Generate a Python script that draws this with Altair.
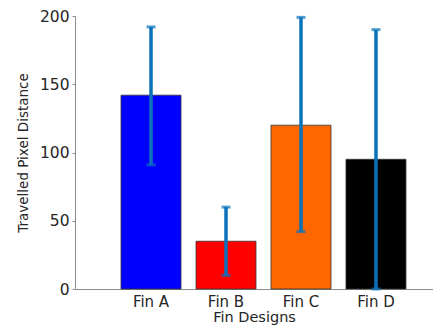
import altair as alt
import pandas as pd

designs = ["Fin A", "Fin B", "Fin C", "Fin D"]
means = [142, 35, 120, 95]
err_low = [91, 10, 42, 0]
err_high = [192, 60, 199, 190]
colors = ["#0000FF", "#FF0000", "#FF6600", "#000000"]

df = pd.DataFrame({"design": designs, "mean": means, "lo": err_low, "hi": err_high})

font = "DejaVu Sans"
x_enc = alt.X(
    "design:N",
    sort=designs,
    scale=alt.Scale(paddingInner=0.2, paddingOuter=0.487, align=0.63),
    axis=alt.Axis(
        title="Fin Designs", labelAngle=0, ticks=False, labelPadding=5,
        labelFontSize=15, titleFontSize=14.5, titlePadding=1,
        domainColor="#8c8c8c", labelColor="#262626", titleColor="#262626",
        labelFont=font, titleFont=font, titleFontWeight="normal",
    ),
)

bars = alt.Chart(df).mark_bar(stroke="#333333", strokeWidth=0.8).encode(
    x=x_enc,
    y=alt.Y(
        "mean:Q",
        scale=alt.Scale(domain=[0, 200], nice=False),
        axis=alt.Axis(
            title="Travelled Pixel Distance", values=[0, 50, 100, 150, 200],
            grid=False, tickSize=3, tickColor="#8c8c8c", labelPadding=3,
            domainColor="#8c8c8c", labelColor="#262626", titleColor="#262626",
            labelFontSize=15.5, titleFontSize=13.5, titlePadding=9,
            labelFont=font, titleFont=font, titleFontWeight="normal",
        ),
    ),
    color=alt.Color("design:N", scale=alt.Scale(domain=designs, range=colors), legend=None),
)

rule = alt.Chart(df).mark_rule(color="#0A72BA", strokeWidth=3.5).encode(
    x=alt.X("design:N", sort=designs), y="lo:Q", y2="hi:Q"
)
cap_lo = alt.Chart(df).mark_tick(color="#0A72BA", size=9, thickness=3).encode(
    x=alt.X("design:N", sort=designs), y="lo:Q"
)
cap_hi = alt.Chart(df).mark_tick(color="#0A72BA", size=9, thickness=3).encode(
    x=alt.X("design:N", sort=designs), y="hi:Q"
)

chart = (
    alt.layer(bars, rule, cap_lo, cap_hi)
    .properties(
        width=358, height=273,
        autosize=alt.AutoSizeParams(type="none"),
        padding={"left": 67, "top": 8, "right": 0, "bottom": 37},
        background="white",
    )
    .configure_view(stroke=None)
)

chart.save("out.html", embed_options={"renderer": "svg", "actions": False})
